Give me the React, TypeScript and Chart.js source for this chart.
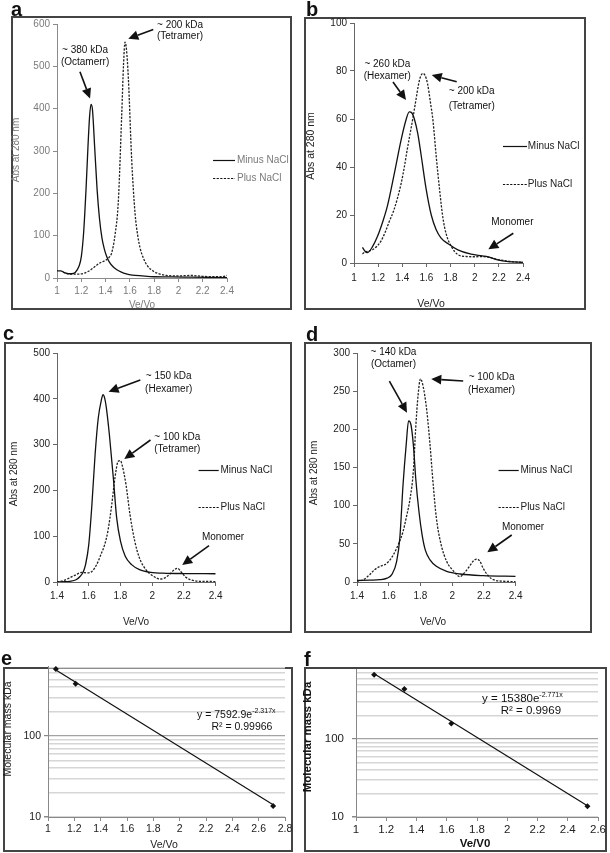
import React, { useEffect, useRef } from "react";
import { Chart, registerables } from "chart.js";

Chart.register(...registerables);

const FONT = '"Liberation Sans", Arial, Helvetica, sans-serif';

// ================= DATA =================
const seriesNames = ["Minus NaCl", "Plus NaCl"];

// panel a  [Ve/Vo, Abs]
const aMinus: [number, number][] = [
  [1.0, 17], [1.03, 17], [1.06, 13], [1.09, 10], [1.12, 10], [1.15, 13], [1.18, 27], [1.2, 50],
  [1.22, 110], [1.24, 215], [1.255, 310], [1.268, 380], [1.28, 410], [1.292, 398], [1.31, 310],
  [1.33, 210], [1.35, 140], [1.37, 95], [1.39, 68], [1.41, 50], [1.43, 38], [1.46, 27],
  [1.49, 20], [1.53, 14], [1.57, 10], [1.62, 7], [1.7, 5], [1.8, 3], [1.95, 2.5], [2.1, 2], [2.4, 1],
];
const aPlus: [number, number][] = [
  [1.05, 14], [1.08, 11], [1.12, 9], [1.17, 9], [1.22, 11], [1.26, 16], [1.3, 24], [1.35, 35],
  [1.4, 42], [1.43, 49], [1.45, 59], [1.478, 102], [1.505, 181], [1.533, 386], [1.548, 505],
  [1.56, 557], [1.572, 540], [1.588, 470], [1.615, 280], [1.643, 152], [1.665, 100], [1.684, 71],
  [1.71, 48], [1.739, 31], [1.794, 16], [1.85, 9], [1.9, 6], [2.0, 5], [2.1, 6], [2.2, 4],
  [2.3, 3], [2.36, 3], [2.4, 6],
];

// panel b
const bMinus: [number, number][] = [
  [1.07, 6.5], [1.09, 5], [1.11, 4.3], [1.15, 6.5], [1.194, 11], [1.24, 17.5], [1.278, 24],
  [1.333, 37], [1.389, 51], [1.43, 59.5], [1.458, 63], [1.48, 62.5], [1.5, 60], [1.528, 54],
  [1.556, 45], [1.597, 31], [1.64, 20], [1.68, 14], [1.72, 10.5], [1.78, 8], [1.86, 5.5],
  [1.97, 3.7], [2.06, 3], [2.11, 2.6], [2.19, 1.3], [2.28, 0.6], [2.4, 0.3],
];
const bPlus: [number, number][] = [
  [1.07, 3.8], [1.09, 4.5], [1.12, 5], [1.153, 5.5], [1.19, 7], [1.222, 9], [1.26, 13], [1.29, 17],
  [1.33, 22], [1.36, 27], [1.39, 33], [1.417, 40], [1.44, 47], [1.465, 54], [1.49, 61],
  [1.513, 68], [1.533, 74], [1.55, 77.5], [1.57, 79], [1.59, 78], [1.61, 74.5], [1.633, 67],
  [1.655, 59], [1.68, 45], [1.708, 31], [1.736, 19], [1.764, 12], [1.806, 6.9], [1.86, 3.5],
  [1.93, 2.7], [2.0, 2.6], [2.06, 2.7], [2.12, 2.4], [2.2, 1.4], [2.3, 0.6], [2.4, 0.3],
];

// panel c
const cMinus: [number, number][] = [
  [1.4, 0], [1.45, 0.5], [1.48, 1.5], [1.52, 5], [1.545, 12], [1.565, 22], [1.58, 38], [1.6, 81],
  [1.62, 169], [1.64, 278], [1.66, 358], [1.68, 398], [1.69, 409], [1.7, 402], [1.71, 383],
  [1.73, 322], [1.755, 227], [1.776, 140], [1.8, 89], [1.83, 56], [1.87, 38], [1.92, 27],
  [1.99, 21], [2.09, 19], [2.2, 18.5], [2.4, 18],
];
const cPlus: [number, number][] = [
  [1.4, 0], [1.44, 3], [1.48, 9], [1.52, 16], [1.555, 21], [1.59, 20], [1.62, 23], [1.65, 38],
  [1.68, 63], [1.7, 81], [1.72, 110], [1.745, 169], [1.765, 227], [1.785, 263], [1.8, 265],
  [1.81, 256], [1.835, 212], [1.86, 147], [1.89, 89], [1.92, 52], [1.96, 27], [2.01, 12],
  [2.05, 6.5], [2.08, 9], [2.11, 17], [2.14, 27], [2.16, 30], [2.18, 23], [2.21, 11], [2.25, 4],
  [2.3, 1.5], [2.4, 1],
];

// panel d
const dMinus: [number, number][] = [
  [1.4, 2], [1.48, 2.5], [1.545, 3], [1.59, 5], [1.62, 10], [1.65, 27], [1.67, 58], [1.69, 127],
  [1.71, 180], [1.725, 211], [1.74, 206], [1.755, 180], [1.77, 136], [1.79, 93], [1.81, 62],
  [1.83, 42], [1.86, 29], [1.9, 20.5], [1.965, 14], [2.05, 10.5], [2.195, 8.3], [2.4, 7.4],
];
const dPlus: [number, number][] = [
  [1.4, 1], [1.44, 3], [1.48, 9.6], [1.51, 16], [1.545, 20.5], [1.575, 22.7], [1.6, 27], [1.63, 36],
  [1.66, 49], [1.69, 66], [1.71, 84], [1.735, 110], [1.755, 145], [1.77, 202], [1.785, 245],
  [1.8, 266], [1.815, 258], [1.84, 224], [1.86, 180], [1.88, 128], [1.9, 84], [1.93, 49],
  [1.965, 27], [2.01, 14], [2.05, 7], [2.07, 10.5], [2.1, 18], [2.135, 28], [2.155, 30],
  [2.175, 27], [2.195, 18], [2.23, 7.4], [2.26, 3], [2.32, 1], [2.4, 0.5],
];

// tick values
const abXTicks = [1, 1.2, 1.4, 1.6, 1.8, 2, 2.2, 2.4];
const aYTicks = [0, 100, 200, 300, 400, 500, 600];
const bYTicks = [0, 20, 40, 60, 80, 100];
const cdXTicks = [1.4, 1.6, 1.8, 2, 2.2, 2.4];
const cYTicks = [0, 100, 200, 300, 400, 500];
const dYTicks = [0, 50, 100, 150, 200, 250, 300];
const eXTicks = [1, 1.2, 1.4, 1.6, 1.8, 2, 2.2, 2.4, 2.6, 2.8];
const fXTicks = [1, 1.2, 1.4, 1.6, 1.8, 2, 2.2, 2.4, 2.6];
const logGridValues = [10, 20, 30, 40, 50, 60, 70, 80, 90, 100, 200, 300, 400, 500, 600, 700];
const logLabelValues = [10, 100];

// calibration (panels e, f)
const eStandardsX = [1.06, 1.21, 2.71];
const eStandardsY = [669, 440, 13.7];
const eFitX = [1.06, 2.71];
const eFitY = [650, 14.2];
const fStandardsX = [1.12, 1.32, 1.63, 2.53];
const fStandardsY = [669, 440, 158, 13.7];
const fFitX = [1.12, 2.53];
const fFitY = [690, 13.9];

// ================= OVERLAY (annotations, legend) =================
type Txt = { x: number; y: number; t: string; sup?: string; align?: "left" | "center" };
type Arrow = [number, number, number, number];
type Leg = { x1: number; x2: number; xt: number; y: number; dash: boolean; t: string };
type Spec = { texts?: Txt[]; arrows?: Arrow[]; legend?: Leg[]; size: number; color: string; legendColor: string };

const DASH = [2.2, 1.4];

function drawArrow(ctx: CanvasRenderingContext2D, x1: number, y1: number, x2: number, y2: number) {
  const ang = Math.atan2(y2 - y1, x2 - x1);
  const hl = 10, hw = 4.8;
  const bx = x2 - hl * Math.cos(ang), by = y2 - hl * Math.sin(ang);
  ctx.strokeStyle = "#111";
  ctx.fillStyle = "#111";
  ctx.lineWidth = 1.6;
  ctx.setLineDash([]);
  ctx.beginPath();
  ctx.moveTo(x1, y1);
  ctx.lineTo(bx, by);
  ctx.stroke();
  ctx.beginPath();
  ctx.moveTo(x2, y2);
  ctx.lineTo(bx + hw * Math.sin(ang), by - hw * Math.cos(ang));
  ctx.lineTo(bx - hw * Math.sin(ang), by + hw * Math.cos(ang));
  ctx.closePath();
  ctx.fill();
}

function overlay(spec: Spec) {
  return {
    id: "overlay",
    afterDraw(chart: any) {
      const ctx: CanvasRenderingContext2D = chart.ctx;
      const xs = chart.scales.x, ys = chart.scales.y;
      const X = (v: number) => xs.getPixelForValue(v);
      const Y = (v: number) => ys.getPixelForValue(v);
      ctx.save();
      (spec.arrows || []).forEach((a) => drawArrow(ctx, X(a[0]), Y(a[1]), X(a[2]), Y(a[3])));
      (spec.legend || []).forEach((l) => {
        const yy = Math.round(Y(l.y)) + 0.5;
        ctx.beginPath();
        ctx.setLineDash(l.dash ? DASH : []);
        ctx.lineWidth = 1.2;
        ctx.strokeStyle = "#111";
        ctx.moveTo(X(l.x1), yy);
        ctx.lineTo(X(l.x2), yy);
        ctx.stroke();
        ctx.setLineDash([]);
        ctx.font = `${spec.size}px ${FONT}`;
        ctx.fillStyle = spec.legendColor;
        ctx.textAlign = "left";
        ctx.textBaseline = "middle";
        ctx.fillText(l.t, X(l.xt), yy);
      });
      (spec.texts || []).forEach((t) => {
        ctx.font = `${spec.size}px ${FONT}`;
        ctx.fillStyle = spec.color;
        ctx.textBaseline = "middle";
        ctx.textAlign = "left";
        const w = ctx.measureText(t.t).width;
        let sw = 0;
        const supFont = `${Math.round(spec.size * 0.62)}px ${FONT}`;
        if (t.sup) {
          ctx.font = supFont;
          sw = ctx.measureText(t.sup).width;
          ctx.font = `${spec.size}px ${FONT}`;
        }
        const px = X(t.x), py = Y(t.y);
        const x0 = t.align === "left" ? px : px - (w + sw) / 2;
        ctx.fillText(t.t, x0, py);
        if (t.sup) {
          ctx.font = supFont;
          ctx.fillText(t.sup, x0 + w, py - spec.size * 0.35);
        }
      });
      ctx.restore();
    },
  };
}

// ================= CHART CONFIGS =================
const fmt = (v: number) => String(+Number(v).toFixed(2));

type Rect = [number, number, number, number];
type Area = [number, number, number, number];

function chromConfig(p: {
  rect: Rect; area: Area; minus: [number, number][]; plus: [number, number][];
  xTicks: number[]; yTicks: number[]; gray: boolean; xPad: number; spec: Spec;
}) {
  const [cx, cy, cw, ch] = p.rect;
  const [L, T, R, B] = p.area;
  const tickColor = p.gray ? "#7a7a7a" : "#222";
  const axisColor = p.gray ? "#8a8a8a" : "#666";
  const tickFont = { family: FONT, size: 10 };
  return {
    type: "scatter",
    data: {
      datasets: [
        {
          label: seriesNames[0],
          data: p.minus.map(([x, y]) => ({ x, y })),
          showLine: true, borderColor: "#111", borderWidth: 1.3, pointRadius: 0,
          cubicInterpolationMode: "monotone",
        },
        {
          label: seriesNames[1],
          data: p.plus.map(([x, y]) => ({ x, y })),
          showLine: true, borderColor: "#222", borderWidth: 1.3, borderDash: DASH, pointRadius: 0,
          cubicInterpolationMode: "monotone",
        },
      ],
    },
    options: {
      responsive: false, animation: false, events: [],
      layout: { padding: { left: 0, top: T - cy, right: cx + cw - R, bottom: 0 } },
      plugins: { legend: { display: false }, tooltip: { enabled: false }, title: { display: false } },
      scales: {
        x: {
          type: "linear", min: p.xTicks[0], max: p.xTicks[p.xTicks.length - 1],
          afterBuildTicks: (s: any) => { s.ticks = p.xTicks.map((v) => ({ value: v })); },
          afterFit: (s: any) => { s.height = cy + ch - B; },
          ticks: { color: tickColor, font: tickFont, padding: p.xPad, maxRotation: 0, autoSkip: false, callback: (v: number) => fmt(v) },
          grid: { drawOnChartArea: false, drawTicks: true, tickLength: 4, color: axisColor },
          border: { color: axisColor, width: 1 },
        },
        y: {
          type: "linear", min: p.yTicks[0], max: p.yTicks[p.yTicks.length - 1],
          afterBuildTicks: (s: any) => { s.ticks = p.yTicks.map((v) => ({ value: v })); },
          afterFit: (s: any) => { s.width = L - cx; },
          ticks: { color: tickColor, font: tickFont, padding: 3, autoSkip: false, callback: (v: number) => fmt(v) },
          grid: { drawOnChartArea: false, drawTicks: true, tickLength: 4, color: axisColor },
          border: { color: axisColor, width: 1 },
        },
      },
    },
    plugins: [overlay(p.spec)],
  };
}

function calibConfig(p: {
  rect: Rect; area: Area; sx: number[]; sy: number[]; fx: number[]; fy: number[];
  xTicks: number[]; yMax: number; size: number; yPad: number; spec: Spec;
}) {
  const [cx, cy, cw, ch] = p.rect;
  const [L, T, R, B] = p.area;
  const tickFont = { family: FONT, size: p.size };
  return {
    type: "scatter",
    data: {
      datasets: [
        {
          label: "standards",
          data: p.sx.map((x, i) => ({ x, y: p.sy[i] })),
          showLine: false, pointStyle: "rectRot", pointRadius: 3, backgroundColor: "#111", borderColor: "#111", borderWidth: 0,
        },
        {
          label: "fit",
          data: p.fx.map((x, i) => ({ x, y: p.fy[i] })),
          showLine: true, pointRadius: 0, borderColor: "#111", borderWidth: 1.2,
        },
      ],
    },
    options: {
      responsive: false, animation: false, events: [],
      layout: { padding: { left: 0, top: T - cy, right: cx + cw - R, bottom: 0 } },
      plugins: { legend: { display: false }, tooltip: { enabled: false } },
      scales: {
        x: {
          type: "linear", min: p.xTicks[0], max: p.xTicks[p.xTicks.length - 1],
          afterBuildTicks: (s: any) => { s.ticks = p.xTicks.map((v) => ({ value: v })); },
          afterFit: (s: any) => { s.height = cy + ch - B; },
          ticks: { color: "#222", font: tickFont, padding: 2, maxRotation: 0, autoSkip: false, callback: (v: number) => fmt(v) },
          grid: { drawOnChartArea: false, drawTicks: true, tickLength: 4, color: "#888" },
          border: { color: "#888", width: 1 },
        },
        y: {
          type: "logarithmic", min: 10, max: p.yMax,
          afterBuildTicks: (s: any) => { s.ticks = logGridValues.map((v) => ({ value: v })); },
          afterFit: (s: any) => { s.width = L - cx; },
          ticks: {
            color: "#222", font: tickFont, padding: p.yPad, autoSkip: false,
            callback: (v: number) => (logLabelValues.includes(v) ? String(v) : ""),
          },
          grid: {
            drawOnChartArea: true, drawTicks: true, tickLength: 4,
            color: (c: any) => (c.tick && c.tick.value === 100 ? "#a3a3a3" : "#d6d6d6"),
            lineWidth: (c: any) => (c.tick && c.tick.value === 100 ? 1.2 : 1.5),
            tickColor: (c: any) => (c.tick && logLabelValues.includes(c.tick.value) ? "#888" : "rgba(0,0,0,0)"),
          },
          border: { color: "#888", width: 1 },
        },
      },
    },
    plugins: [overlay(p.spec)],
  };
}

// ================= PANELS =================
const legendABCD = (x1: number, x2: number, xt: number, y1: number, y2: number): Leg[] => [
  { x1, x2, xt, y: y1, dash: false, t: seriesNames[0] },
  { x1, x2, xt, y: y2, dash: true, t: seriesNames[1] },
];

const panels: { rect: Rect; cfg: () => any }[] = [
  {
    rect: [4, 8, 296, 306],
    cfg: () => chromConfig({
      rect: [4, 8, 296, 306], area: [57, 24, 227, 278], minus: aMinus, plus: aPlus,
      xTicks: abXTicks, yTicks: aYTicks, gray: true, xPad: 3,
      spec: {
        size: 10, color: "#111", legendColor: "#7a7a7a",
        texts: [
          { x: 1.231, y: 539, t: "~ 380 kDa" }, { x: 1.231, y: 509, t: "(Octamerr)" },
          { x: 2.013, y: 598, t: "~ 200 kDa" }, { x: 2.013, y: 570, t: "(Tetramer)" },
        ],
        arrows: [[1.189, 487, 1.272, 424], [1.793, 587, 1.587, 565]],
        legend: legendABCD(2.285, 2.466, 2.482, 279, 236),
      },
    }),
  },
  {
    rect: [302, 8, 300, 306],
    cfg: () => chromConfig({
      rect: [302, 8, 300, 306], area: [354, 23, 523, 263], minus: bMinus, plus: bPlus,
      xTicks: abXTicks, yTicks: bYTicks, gray: false, xPad: 5,
      spec: {
        size: 10, color: "#111", legendColor: "#222",
        texts: [
          { x: 1.276, y: 82.9, t: "~ 260 kDa" }, { x: 1.276, y: 77.9, t: "(Hexamer)" },
          { x: 1.975, y: 71.4, t: "~ 200 kDa" }, { x: 1.975, y: 65.4, t: "(Tetramer)" },
          { x: 2.312, y: 16.8, t: "Monomer" },
        ],
        arrows: [[1.323, 75.4, 1.431, 67.9], [1.851, 75.5, 1.644, 78.3], [2.32, 12.4, 2.113, 5.7]],
        legend: legendABCD(2.234, 2.433, 2.44, 48.75, 32.9),
      },
    }),
  },
  {
    rect: [0, 334, 300, 304],
    cfg: () => chromConfig({
      rect: [0, 334, 300, 304], area: [57, 353, 215.7, 582], minus: cMinus, plus: cPlus,
      xTicks: cdXTicks, yTicks: cYTicks, gray: false, xPad: 4,
      spec: {
        size: 10, color: "#111", legendColor: "#222",
        texts: [
          { x: 2.104, y: 450, t: "~ 150 kDa" }, { x: 2.104, y: 421, t: "(Hexamer)" },
          { x: 2.158, y: 317, t: "~ 100 kDa" }, { x: 2.158, y: 290, t: "(Tetramer)" },
          { x: 2.446, y: 97.6, t: "Monomer" },
        ],
        arrows: [[1.925, 441, 1.725, 415.5], [1.989, 310, 1.824, 268.6], [2.358, 79.3, 2.189, 37.1]],
        legend: legendABCD(2.292, 2.419, 2.43, 244.5, 163.8),
      },
    }),
  },
  {
    rect: [300, 334, 300, 304],
    cfg: () => chromConfig({
      rect: [300, 334, 300, 304], area: [357, 353, 515.7, 582], minus: dMinus, plus: dPlus,
      xTicks: cdXTicks, yTicks: dYTicks, gray: false, xPad: 4,
      spec: {
        size: 10, color: "#111", legendColor: "#222",
        texts: [
          { x: 1.63, y: 300.4, t: "~ 140 kDa" }, { x: 1.63, y: 285, t: "(Octamer)" },
          { x: 2.248, y: 267.7, t: "~ 100 kDa" }, { x: 2.248, y: 251.5, t: "(Hexamer)" },
          { x: 2.446, y: 71.7, t: "Monomer" },
        ],
        arrows: [[1.604, 263.3, 1.715, 221.8], [2.069, 263.3, 1.868, 266], [2.375, 61.6, 2.221, 38.9]],
        legend: legendABCD(2.292, 2.419, 2.43, 146.7, 98.3),
      },
    }),
  },
  {
    rect: [0, 655, 300, 198],
    cfg: () => calibConfig({
      rect: [0, 655, 300, 198], area: [48, 666, 285, 817], sx: eStandardsX, sy: eStandardsY,
      fx: eFitX, fy: eFitY, xTicks: eXTicks, yMax: 730, size: 10.5, yPad: 3,
      spec: {
        size: 10.5, color: "#111", legendColor: "#111",
        texts: [
          { x: 2.43, y: 181.5, t: "y = 7592.9e", sup: "-2.317x" },
          { x: 2.473, y: 129, t: "R² = 0.99966" },
        ],
      },
    }),
  },
  {
    rect: [300, 655, 310, 198],
    cfg: () => calibConfig({
      rect: [300, 655, 310, 198], area: [356, 666, 598, 817], sx: fStandardsX, sy: fStandardsY,
      fx: fFitX, fy: fFitY, xTicks: fXTicks, yMax: 772, size: 11.5, yPad: 8,
      spec: {
        size: 11.5, color: "#111", legendColor: "#111",
        texts: [
          { x: 2.1, y: 325.6, t: "y = 15380e", sup: "-2.771x" },
          { x: 2.156, y: 230, t: "R² = 0.9969" },
        ],
      },
    }),
  },
];

const boxes: [number, number, number, number][] = [
  [11, 16, 292, 310],
  [304, 17, 586, 310],
  [4, 342, 292, 633],
  [304, 342, 592, 633],
  [3, 667, 293, 852],
  [304, 667, 607, 852],
];

type Lbl = { x: number; y: number; t: string; size: number; bold?: boolean; color?: string; align?: "left" | "center"; rotate?: boolean };
const labels: Lbl[] = [
  // panel letters
  { x: 11, y: 8.5, t: "a", size: 20, bold: true, align: "left" },
  { x: 306, y: 9, t: "b", size: 20, bold: true, align: "left" },
  { x: 3, y: 332.5, t: "c", size: 20, bold: true, align: "left" },
  { x: 306, y: 333.5, t: "d", size: 20, bold: true, align: "left" },
  { x: 1, y: 658, t: "e", size: 20, bold: true, align: "left" },
  { x: 304, y: 658.5, t: "f", size: 20, bold: true, align: "left" },
  // axis titles
  { x: 16, y: 150, t: "Abs at 280 nm", size: 10, color: "#7a7a7a", rotate: true },
  { x: 142, y: 305, t: "Ve/Vo", size: 10, color: "#7a7a7a" },
  { x: 310, y: 146, t: "Abs at 280 nm", size: 10.5, color: "#222", rotate: true },
  { x: 431, y: 303, t: "Ve/Vo", size: 10.5, color: "#222" },
  { x: 14, y: 474, t: "Abs at 280 nm", size: 10, color: "#222", rotate: true },
  { x: 136, y: 622, t: "Ve/Vo", size: 10, color: "#222" },
  { x: 314, y: 473, t: "Abs at 280 nm", size: 10, color: "#222", rotate: true },
  { x: 433, y: 622, t: "Ve/Vo", size: 10, color: "#222" },
  { x: 7, y: 729, t: "Molecular mass kDa", size: 10.5, color: "#222", rotate: true },
  { x: 164, y: 844, t: "Ve/Vo", size: 10.5, color: "#222" },
  { x: 308, y: 737, t: "Molecular mass  kDa", size: 11.5, bold: true, color: "#111", rotate: true },
  { x: 475, y: 844, t: "Ve/V0", size: 11.5, bold: true, color: "#111" },
];

// ================= COMPONENTS =================
function ChartCanvas({ rect, cfg }: { rect: Rect; cfg: () => any }) {
  const ref = useRef<HTMLCanvasElement>(null);
  useEffect(() => {
    const chart = new Chart(ref.current as HTMLCanvasElement, cfg());
    return () => chart.destroy();
  }, []);
  return (
    <canvas
      ref={ref}
      width={rect[2]}
      height={rect[3]}
      style={{ position: "absolute", left: rect[0], top: rect[1], width: rect[2], height: rect[3] }}
    />
  );
}

function Label({ l }: { l: Lbl }) {
  const tx = l.align === "left" ? "0" : "-50%";
  return (
    <div
      style={{
        position: "absolute", left: l.x, top: l.y,
        transform: `translate(${tx}, -50%)${l.rotate ? " rotate(-90deg)" : ""}`,
        fontFamily: FONT, fontSize: l.size, fontWeight: l.bold ? 700 : 400,
        color: l.color || "#111", lineHeight: 1, whiteSpace: "nowrap",
      }}
    >
      {l.t}
    </div>
  );
}

export default function App() {
  return (
    <div style={{ position: "absolute", left: 0, top: 0, width: 610, height: 853, background: "#fff", overflow: "hidden" }}>
      {boxes.map((b, i) => (
        <div
          key={"b" + i}
          style={{
            position: "absolute", left: b[0], top: b[1], width: b[2] - b[0], height: b[3] - b[1],
            border: "2px solid #444", boxSizing: "border-box",
          }}
        />
      ))}
      {panels.map((p, i) => (
        <ChartCanvas key={"c" + i} rect={p.rect} cfg={p.cfg} />
      ))}
      {labels.map((l, i) => (
        <Label key={"l" + i} l={l} />
      ))}
    </div>
  );
}
